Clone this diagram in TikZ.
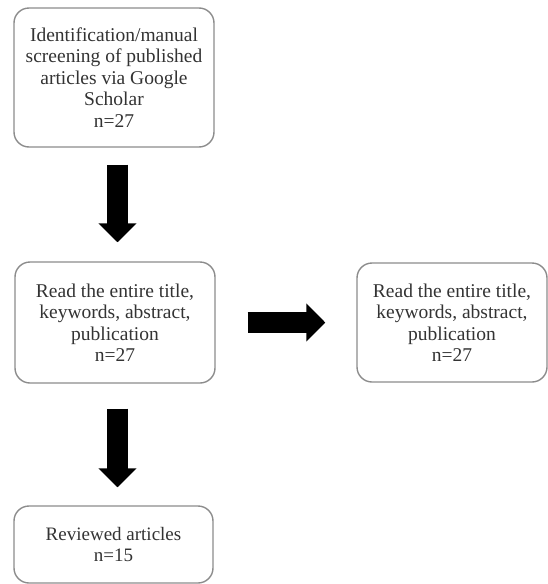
\documentclass[tikz,border=0pt]{standalone}
\usepackage{fontspec}
\setmainfont{Liberation Serif}
\usetikzlibrary{arrows.meta}
\begin{document}
\begin{tikzpicture}[x=1pt,y=-1pt,
  box/.style={draw=black!45, line width=1.4pt, rounded corners=15pt, align=center,
    font=\fontsize{19.5}{21.5}\selectfont, text=black!80, inner sep=0pt},
  fat/.style={line width=21pt, draw=black, -{Triangle[length=19pt 0 0, width=37pt 0 0]}}]
\useasboundingbox (0,0) rectangle (547,584);
\node[box, minimum width=200pt, minimum height=139pt] (b1) at (114,77.5)
  {\raisebox{-2pt}{\parbox{180pt}{\centering Identification/manual\\screening of published\\articles via Google\\Scholar\\n=27}}};
\node[box, minimum width=200pt, minimum height=121pt] (b2) at (115,322.5)
  {Read the entire title,\\keywords, abstract,\\publication\\n=27};
\node[box, minimum width=190pt, minimum height=119pt] (b3) at (452,322.5)
  {Read the entire title,\\keywords, abstract,\\publication\\n=27};
\node[box, minimum width=199pt, minimum height=77pt, font=\fontsize{19}{21}\selectfont] (b4) at (113.5,544.5)
  {Reviewed articles\\n=15};
\draw[fat, shorten <=17pt, shorten >=19pt] ([xshift=3.5pt]b1.south) -- ([xshift=3.5pt]b1.south |- b2.north);
\draw[fat, shorten <=32pt, shorten >=31pt] (b2.east) -- (b3.west);
\draw[fat, shorten <=25pt, shorten >=18pt] ([xshift=2.5pt]b2.south) -- ([xshift=2.5pt]b2.south |- b4.north);
\end{tikzpicture}
\end{document}
